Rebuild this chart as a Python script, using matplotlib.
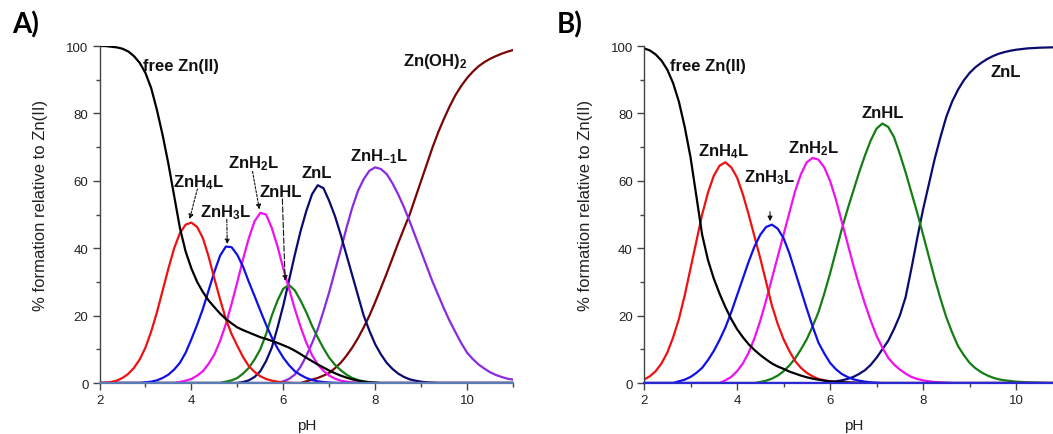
import matplotlib
matplotlib.use('Agg')
import matplotlib.pyplot as plt
from matplotlib.ticker import MultipleLocator

plt.rcParams['font.family'] = ['Liberation Sans', 'DejaVu Sans']
plt.rcParams['mathtext.fontset'] = 'custom'
plt.rcParams['mathtext.rm'] = 'Liberation Sans:bold'
plt.rcParams['mathtext.it'] = 'Liberation Sans:bold'
plt.rcParams['mathtext.bf'] = 'Liberation Sans:bold'

# pH grid of the read points
ph = [2.0, 2.125, 2.25, 2.375, 2.5, 2.625, 2.75, 2.875, 3.0, 3.125, 3.25, 3.375,
      3.5, 3.625, 3.75, 3.875, 4.0, 4.125, 4.25, 4.375, 4.5, 4.625, 4.75, 4.875,
      5.0, 5.125, 5.25, 5.375, 5.5, 5.625, 5.75, 5.875, 6.0, 6.125, 6.25, 6.375,
      6.5, 6.625, 6.75, 6.875, 7.0, 7.125, 7.25, 7.375, 7.5, 7.625, 7.75, 7.875,
      8.0, 8.125, 8.25, 8.375, 8.5, 8.625, 8.75, 8.875, 9.0, 9.125, 9.25, 9.375,
      9.5, 9.625, 9.75, 9.875, 10.0, 10.125, 10.25, 10.375, 10.5, 10.625, 10.75,
      10.875, 11.0]

# ---------- Panel A (% of Zn(II)) ----------
a_free = [100, 100, 99.8, 99.6, 99.2, 98.4, 97, 95, 92, 87.5, 81, 73.5, 65, 55.5, 46,
          39, 34, 30, 27, 24.5, 22.5, 20.6, 19, 17.7, 16.5, 15.7, 15, 14.3, 13.6, 13.1,
          12.5, 11.9, 11.2, 10.5, 9.6, 8.6, 7.5, 6.5, 5.5, 4.6, 3.7, 2.9, 2.2, 1.6, 1.1,
          0.7, 0.4, 0.2, 0.1] + [0] * 24
a_znh4l = [0, 0.1, 0.3, 0.7, 1.5, 2.7, 4.5, 7, 10.5, 15.3, 21, 27.5, 34, 40, 44.5, 47,
           47.6, 46.3, 43, 37.5, 31, 24.8, 19, 14.5, 11, 7.7, 5, 3.3, 2, 1.2, 0.7, 0.4,
           0.2, 0.1] + [0] * 39
a_znh3l = [0] * 8 + [0.2, 0.4, 0.8, 1.5, 2.5, 4, 6, 9, 13, 17.3, 22, 27.5, 33, 37.8,
                     40.5, 40.3, 38, 34.5, 30, 25.8, 21.5, 17.3, 13.5, 10.3, 7.5, 5.3,
                     3.5, 2.4, 1.5, 0.9, 0.5, 0.3, 0.15, 0.05] + [0] * 31
a_znh2l = [0] * 14 + [0.3, 0.7, 1.2, 2.2, 3.5, 5.7, 8.5, 12.5, 17.5, 23.5, 30, 36.8, 43,
                      48, 50.5, 50, 46, 40.5, 34, 28, 22, 16.7, 12, 8.3, 5.5, 3.6, 2.2,
                      1.3, 0.7, 0.4, 0.2, 0.1] + [0] * 27
a_znhl = [0] * 22 + [0.4, 0.8, 1.5, 2.8, 4.5, 7, 10, 14.5, 20, 24.5, 28, 29.1, 27.5, 24.5,
                     21, 17, 13.5, 10.3, 7.5, 5.4, 3.8, 2.5, 1.5, 0.9, 0.5, 0.25,
                     0.1] + [0] * 24
a_znl = [0] * 25 + [0.3, 0.8, 1.8, 3.5, 6.5, 10.5, 16.5, 23, 30.5, 38, 45, 51, 56, 58.7,
                    57.8, 54, 49.5, 44, 38, 32, 26, 20, 15.5, 11.5, 8.5, 6, 4.2, 2.8, 1.8,
                    1.1, 0.7, 0.4, 0.2, 0.1] + [0] * 14
a_znhm1l = [0] * 32 + [0.5, 1.2, 2.5, 4.8, 8, 11.8, 16, 21.3, 27, 33.3, 39.5, 46, 52, 57,
                       60.5, 63, 64, 63.5, 62, 59.3, 56, 52.2, 48, 43.5, 39, 34.5, 30,
                       26, 22, 18.3, 15, 11.8, 9, 7.1, 5.5, 4.3, 3.2, 2.4, 1.8, 1.3, 1.0]
a_znoh2 = [0] * 36 + [0.5, 1.0, 1.5, 2.2, 3, 4.4, 6, 8.1, 10.5, 13.3, 16.5, 20, 24, 28.2,
                      32.5, 37, 41.5, 45.8, 50, 55, 60, 65, 70, 74.5, 78.5, 82.2, 85.5,
                      88.2, 90.5, 92.4, 94, 95.2, 96.2, 97, 97.7, 98.3, 98.8]

# ---------- Panel B (% of Zn(II)) ----------
b_free = [99.3, 98.7, 97.5, 95.7, 93, 89, 83.5, 76, 67, 55.5, 44, 36.5, 31, 26.5, 22.5,
          19, 16, 13.6, 11.5, 9.8, 8.3, 7, 5.8, 4.9, 4.2, 3.4, 2.8, 2.2, 1.7, 1.3, 1.0,
          0.7, 0.5, 0.35, 0.25, 0.15, 0.1, 0.05] + [0] * 35
b_znh4l = [1.0, 2, 3.5, 5.8, 9, 13.5, 19, 26, 34, 42, 50, 56.5, 61.5, 64.5, 65.5, 64, 61,
           56, 50, 43.5, 37, 30, 23, 17.5, 13, 9.5, 6.5, 4.5, 3, 2, 1.2, 0.8, 0.5, 0.3,
           0.2, 0.15, 0.1, 0.05] + [0] * 35
b_znh3l = [0] * 6 + [0.5, 1.0, 1.8, 3, 4.5, 6.8, 9.5, 12.8, 16.5, 21, 26, 31, 36, 40.5,
                     44, 46.3, 47, 45.8, 43, 38.5, 33, 27.5, 22, 16.8, 12, 8.8, 6, 4.1,
                     2.7, 1.8, 1.1, 0.7, 0.4, 0.2, 0.1] + [0] * 32
b_znh2l = [0] * 14 + [0.8, 1.8, 3.5, 5.8, 9, 13.3, 18.5, 24.5, 31, 37.5, 44, 50.5, 57,
                      62, 65.5, 66.8, 66.3, 64, 60, 54.5, 48, 41.5, 35, 29, 23.5, 18.5,
                      14, 10.5, 7.5, 5.5, 4, 2.8, 1.8, 1.2, 0.8, 0.5, 0.3, 0.2,
                      0.1] + [0] * 20
b_znhl = [0] * 20 + [0.3, 0.7, 1.3, 2.2, 3.5, 5.2, 7.3, 10, 13, 16.8, 21, 26.5, 32.5, 39,
                     45.5, 51.5, 57, 62.5, 67.5, 72, 75.5, 77, 76, 73, 68, 62.5, 56.5,
                     50.5, 44, 37.5, 31, 25, 19.5, 15, 11, 8.3, 6, 4.4, 3.2, 2.3, 1.6,
                     1.1, 0.8, 0.6, 0.4, 0.3, 0.2, 0.15, 0.1, 0.05] + [0] * 3
b_znl = [0] * 32 + [0.3, 0.5, 0.8, 1.2, 1.8, 2.7, 3.8, 5.4, 7.5, 10, 12.5, 16, 20, 25.5,
                    34, 43, 51.5, 59, 66.5, 73, 79, 83.5, 87, 89.8, 92, 93.7, 95, 96.1,
                    97, 97.7, 98.2, 98.6, 98.9, 99.1, 99.3, 99.4, 99.5, 99.55, 99.6,
                    99.65, 99.7]

x_ticks = [2, 4, 6, 8, 10]
x_ticklabels = ['2', '4', '6', '8', '10']
y_ticks = [0, 20, 40, 60, 80, 100]
y_ticklabels = ['0', '20', '40', '60', '80', '100']

C_BLACK = '#000000'
C_RED = '#ee1111'
C_BLUE = '#1010e6'
C_MAG = '#f010f0'
C_GREEN = '#147d14'
C_NAVY = '#0a0a70'
C_PURPLE = '#8a2be2'
C_BROWN = '#7a0505'

fig = plt.figure(figsize=(10.53, 4.35), dpi=100)
axA = fig.add_axes([0.0945, 0.1172, 0.3927, 0.7747])
axB = fig.add_axes([0.6116, 0.1172, 0.3975, 0.7747])


def style(ax, basecol):
    ax.set_xlim(2, 11)
    ax.set_ylim(0, 100)
    ax.set_xticks(x_ticks)
    ax.set_xticklabels(x_ticklabels)
    ax.set_yticks(y_ticks)
    ax.set_yticklabels(y_ticklabels)
    ax.xaxis.set_minor_locator(MultipleLocator(1))
    ax.yaxis.set_minor_locator(MultipleLocator(10))
    for s in ['top', 'right']:
        ax.spines[s].set_visible(False)
    ax.spines['left'].set_color('#444444')
    ax.spines['left'].set_linewidth(1.0)
    ax.spines['bottom'].set_color(basecol)
    ax.spines['bottom'].set_linewidth(1.6)
    for s in ax.spines.values():
        s.set_zorder(5)
    ax.tick_params(which='major', direction='out', length=5, width=1,
                   color='#444444', labelsize=9.5, labelcolor='#222222', pad=3)
    ax.tick_params(which='minor', direction='out', length=3, width=1,
                   color='#444444')
    ax.set_xlabel('pH', fontsize=11, color='#222222')
    ax.xaxis.set_label_coords(0.5, -0.105)
    ax.set_ylabel('% formation relative to Zn(II)', fontsize=12, color='#222222')


lw = 1.6
axA.plot(ph, a_znoh2, color=C_BROWN, lw=lw)
axA.plot(ph, a_znhm1l, color=C_PURPLE, lw=lw)
axA.plot(ph, a_znl, color=C_NAVY, lw=lw)
axA.plot(ph, a_znhl, color=C_GREEN, lw=lw)
axA.plot(ph, a_znh2l, color=C_MAG, lw=lw)
axA.plot(ph, a_znh3l, color=C_BLUE, lw=lw)
axA.plot(ph, a_znh4l, color=C_RED, lw=lw)
axA.plot(ph, a_free, color=C_BLACK, lw=lw)
style(axA, '#5a7db5')
axA.yaxis.set_label_coords(-0.124, 0.53)

axB.plot(ph, b_znl, color=C_NAVY, lw=lw)
axB.plot(ph, b_znhl, color=C_GREEN, lw=lw)
axB.plot(ph, b_znh2l, color=C_MAG, lw=lw)
axB.plot(ph, b_znh4l, color=C_RED, lw=lw)
axB.plot(ph, b_znh3l, color=C_BLUE, lw=lw)
axB.plot(ph, b_free, color=C_BLACK, lw=lw)
style(axB, '#2a2ad0')
axB.yaxis.set_label_coords(-0.122, 0.53)

lab = dict(fontsize=12, fontweight='bold', color='#111111', va='baseline', ha='left')
# Panel A labels
axA.text(2.95, 93.0, 'free Zn(II)', **lab)
axA.text(8.61, 94.5, r'Zn(OH)$_2$', **lab)
axA.text(3.61, 58.4, r'ZnH$_4$L', **lab)
axA.text(4.19, 49.5, r'ZnH$_3$L', **lab)
axA.text(4.79, 64.0, r'ZnH$_2$L', **lab)
axA.text(5.49, 55.4, 'ZnHL', **lab)
axA.text(6.40, 61.0, 'ZnL', **lab)
axA.text(7.45, 66.0, r'ZnH$_{-1}$L', **lab)

# Panel B labels
axB.text(2.56, 93.0, 'free Zn(II)', **lab)
axB.text(3.17, 67.5, r'ZnH$_4$L', **lab)
axB.text(4.14, 59.8, r'ZnH$_3$L', **lab)
axB.text(5.10, 68.6, r'ZnH$_2$L', **lab)
axB.text(6.67, 79.0, 'ZnHL', **lab)
axB.text(9.44, 91.2, 'ZnL', **lab)


def arrow(ax, start, tip, ls):
    ax.annotate('', xy=tip, xytext=start,
                arrowprops=dict(arrowstyle='-|>', linestyle=ls, lw=0.8,
                                color='#111111', mutation_scale=7,
                                shrinkA=0, shrinkB=0))


arrow(axA, (4.13, 57.6), (3.96, 48.6), (0, (2, 1.5)))
arrow(axA, (4.77, 48.6), (4.78, 41.2), (0, (3, 1.5, 1, 1.5)))
arrow(axA, (5.33, 62.8), (5.48, 51.5), (0, (2, 1.5)))
arrow(axA, (5.98, 54.6), (6.04, 30.3), (0, (5, 2)))
arrow(axB, (4.71, 50.8), (4.71, 48.0), '-')

fig.text(0.0114, 0.924, 'A)', fontsize=20, fontweight='bold', family='Lato',
         va='baseline', ha='left')
fig.text(0.5287, 0.924, 'B)', fontsize=20, fontweight='bold', family='Lato',
         va='baseline', ha='left')

fig.savefig('out.png', dpi=100)
